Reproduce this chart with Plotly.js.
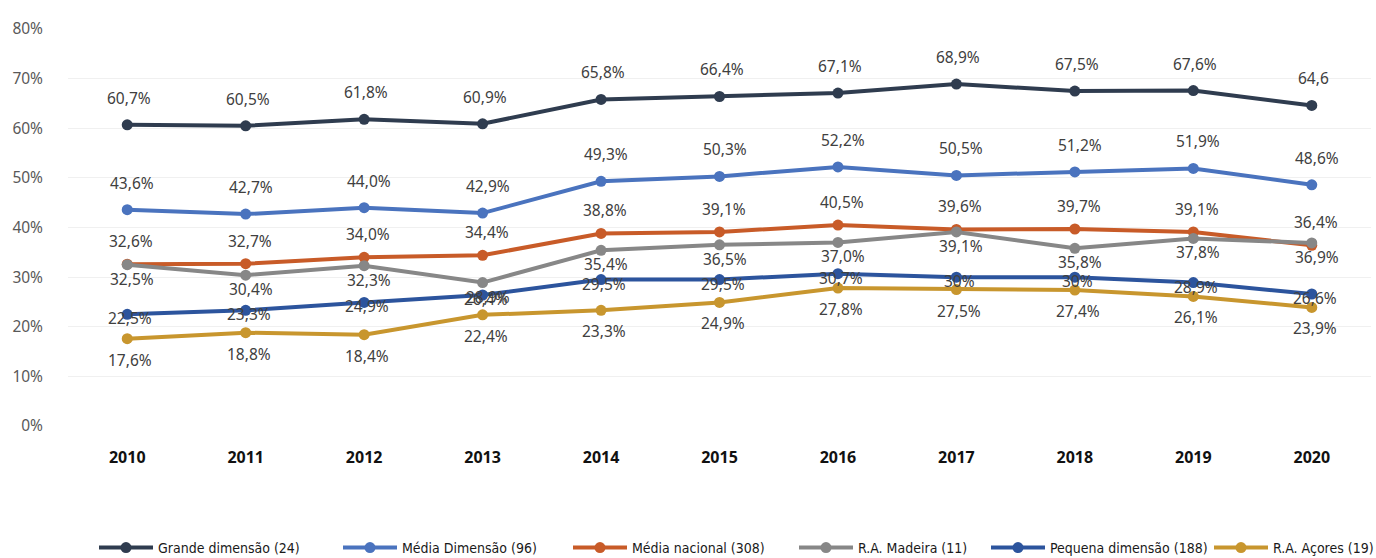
<!DOCTYPE html>
<html>
<head>
<meta charset="utf-8">
<script src="https://cdn.plot.ly/plotly-3.0.1.min.js"></script>
<style>html,body{margin:0;padding:0;background:#fff;}#chart{width:1376px;height:558px;}</style>
</head>
<body>
<div id="chart"></div>
<script>
// ---- data ----
const years = ['2010','2011','2012','2013','2014','2015','2016','2017','2018','2019','2020'];
const seriesNames = ['Grande dimensão (24)','Média Dimensão (96)','Média nacional (308)','R.A. Madeira (11)','Pequena dimensão (188)','R.A. Açores (19)'];
const grande   = [60.7, 60.5, 61.8, 60.9, 65.8, 66.4, 67.1, 68.9, 67.5, 67.6, 64.6];
const mediaDim = [43.6, 42.7, 44.0, 42.9, 49.3, 50.3, 52.2, 50.5, 51.2, 51.9, 48.6];
const mediaNac = [32.6, 32.7, 34.0, 34.4, 38.8, 39.1, 40.5, 39.6, 39.7, 39.1, 36.4];
const madeira  = [32.5, 30.4, 32.3, 28.9, 35.4, 36.5, 37.0, 39.1, 35.8, 37.8, 36.9];
const pequena  = [22.5, 23.3, 24.9, 26.4, 29.5, 29.5, 30.7, 30.0, 30.0, 28.9, 26.6];
const acores   = [17.6, 18.8, 18.4, 22.4, 23.3, 24.9, 27.8, 27.5, 27.4, 26.1, 23.9];
const yTickVals = [0,10,20,30,40,50,60,70,80];
// label texts that differ from the default format in the original
const labelOverrides = { 0: {10: '64,6'}, 4: {7: '30%', 8: '30%'} };

// ---- styles ----
const values = [grande, mediaDim, mediaNac, madeira, pequena, acores];
const colors = ['#2F3C4F', '#4A73BE', '#C85B28', '#878787', '#2C549D', '#C8962E'];
const labelShift = [
  {x: 2, y: 27}, {x: 5, y: 27}, {x: 4, y: 23},
  {x: 5, y: -14}, {x: 3, y: -4}, {x: 3, y: -21}
];
const legendX = [97, 341, 571, 797, 989, 1212];
const plotL = 68, plotR = 5, plotT = 29, plotB = 132, W = 1376, H = 558;

function fmt(v){ return v.toFixed(1).replace('.', ',') + '%'; }

const traces = values.map((vals, i) => ({
  type: 'scatter', mode: 'lines+markers',
  x: years, y: vals, name: seriesNames[i],
  line: {color: colors[i], width: 4},
  marker: {color: colors[i], size: 11},
  legend: i === 0 ? 'legend' : 'legend' + (i + 1),
  hoverinfo: 'skip'
}));

const annotations = [];
values.forEach((vals, i) => {
  vals.forEach((v, j) => {
    const ov = labelOverrides[i] ? labelOverrides[i][j] : undefined;
    annotations.push({
      x: j, y: v, xref: 'x', yref: 'y',
      text: ov !== undefined ? ov : fmt(v),
      showarrow: false,
      xshift: labelShift[i].x, yshift: labelShift[i].y,
      font: {family: 'Noto Sans, sans-serif', size: 15.5, color: '#404040'}
    });
  });
});

const layout = {
  width: W, height: H,
  margin: {l: plotL, r: plotR, t: plotT, b: plotB, autoexpand: false},
  paper_bgcolor: '#fff', plot_bgcolor: '#fff',
  showlegend: true,
  xaxis: {
    type: 'category', range: [-0.5, 10.5],
    showgrid: false, zeroline: false, showline: false,
    ticks: '', ticklabelstandoff: 20,
    tickfont: {family: 'Noto Sans, sans-serif', size: 16, color: '#111', weight: 'bold'}
  },
  yaxis: {
    range: [0, 80], tickvals: yTickVals, ticktext: yTickVals.map(v => v + '%'),
    showgrid: true, gridcolor: '#F0F0F0', gridwidth: 1,
    zeroline: false, showline: false, ticks: '', ticklabelstandoff: 24,
    tickfont: {family: 'Noto Sans, sans-serif', size: 15.5, color: '#595959'}
  },
  annotations: annotations
};

legendX.forEach((px, i) => {
  const key = i === 0 ? 'legend' : 'legend' + (i + 1);
  layout[key] = {
    orientation: 'h', xref: 'container', yref: 'container',
    x: (px - 3) / W, xanchor: 'left',
    y: 1 - 548 / H, yanchor: 'middle',
    bgcolor: 'rgba(0,0,0,0)', borderwidth: 0, itemwidth: 54,
    font: {family: 'DejaVu Sans Condensed, sans-serif', size: 14, color: '#1a1a1a', stretch: 'condensed'}
  };
});

Plotly.newPlot('chart', traces, layout, {displayModeBar: false, staticPlot: true});
</script>
</body>
</html>
